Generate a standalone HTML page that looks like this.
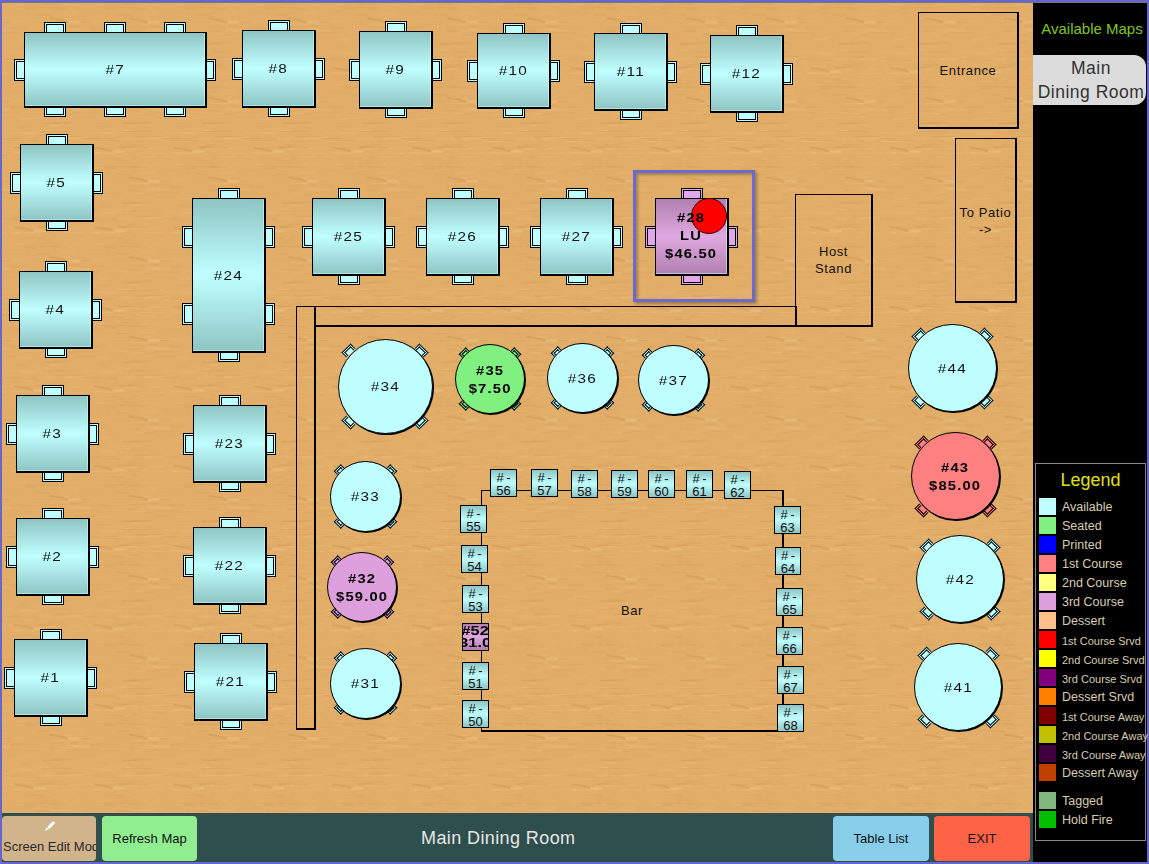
<!DOCTYPE html>
<html><head><meta charset="utf-8"><title>Main Dining Room</title>
<style>
*{margin:0;padding:0;box-sizing:content-box}
html,body{width:1149px;height:864px;overflow:hidden}
body{background:#6566ce;position:relative;font-family:"Liberation Sans",sans-serif}
#floor{position:absolute;left:2px;top:2px;width:1031px;height:811px;overflow:hidden;background:#e1ad67}
#fl{position:absolute;left:-2px;top:-2px;width:1149px;height:864px}
#fl>div{position:absolute}
.ln{background:#000}
.box{border:1px solid #000;border-right-width:2px;border-bottom-width:2px}
.box span{position:absolute;left:0;right:0;text-align:center;font-size:13px;color:#111;line-height:15px;letter-spacing:0.6px}
.ch{border-style:solid;border-color:#000;box-sizing:border-box}
.ch i{display:block;width:100%;height:100%;border-style:solid;border-color:#000;box-sizing:border-box}
.tl{border:1px solid #000;border-right-width:2px;border-bottom-width:2px;box-shadow:inset -1px -1px 0 rgba(200,255,255,.55);display:flex;align-items:center;justify-content:center;font-size:13px;color:#111;letter-spacing:1px}
.rc{border:1px solid #000;box-shadow:inset 0 0 0 1px #c0ffff, inset 0 0 0 2px #000}
.rt{border:1px solid #000;box-shadow:1px 1px 0 0 #000;border-radius:50%;display:flex;align-items:center;justify-content:center;font-size:13px;color:#111;letter-spacing:1px}
.tb{font-weight:bold;font-size:12.5px;line-height:18px;text-align:center;color:#000;transform:scaleX(1.18);white-space:nowrap}
.rt .tb{position:relative;top:1px}
.bs{border:1px solid #000;text-align:center;font-size:13px;line-height:13px;color:#111;padding-top:0;overflow:hidden;display:flex;align-items:center;justify-content:center;flex-direction:column}
.bs>span{position:relative;top:1px}
.tb.s{font-size:12.5px;line-height:12.5px;white-space:nowrap;transform:scaleX(1.3)}
.lb{display:inline-block;transform:scaleX(1.18);letter-spacing:1px}
#sel{left:633px;top:169.5px;width:116px;height:126px;border:3px solid #6a6acf;box-shadow:2px 2px 3px rgba(0,0,0,.3), inset 2px 2px 3px rgba(0,0,0,.28)}
#dot{position:absolute;left:35px;top:-1px;width:34px;height:34px;border-radius:50%;background:#ff0000;border:1px solid #300}
#side{position:absolute;left:1033px;top:2px;width:114px;height:860px;background:#000}
#avail{position:absolute;left:2px;width:114px;top:18px;text-align:center;color:#80c428;font-size:15px}
#mdr{position:absolute;left:0;top:53px;width:113px;height:50px;background:#dcdcdc;border-radius:0 12px 12px 0;text-align:center;color:#333;font-size:17.5px;letter-spacing:0.5px;line-height:23.5px;padding-top:2px;padding-left:3px;box-sizing:border-box;white-space:nowrap}
#legend{position:absolute;left:2px;top:461px;width:109px;height:376px;border:1px solid #8a8a8a}
#legend h3{position:absolute;left:0;right:0;top:6px;text-align:center;color:#e0e010;font-weight:normal;font-size:18px}
.lg{position:absolute;left:3px;height:17px;width:120px}
.lg b{position:absolute;left:0;top:0;width:17px;height:17px}
.lg span{position:absolute;left:23px;top:2px;color:#d8cdb0;font-size:12.5px;white-space:nowrap;line-height:15px}
.lg span.sm{font-size:11px;top:3px}
#bottom{position:absolute;left:2px;top:813px;width:1031px;height:49px;background:#2f4f4f}
.btn{position:absolute;top:3px;height:45px;border-radius:4px;font-size:13px;color:#111;display:flex;align-items:center;justify-content:center;white-space:nowrap;overflow:hidden}
#title{position:absolute;left:419px;top:15px;color:#e6e6e6;font-size:18px;letter-spacing:0.4px}
</style></head>
<body>
<div id="floor"><svg id="wood" width="1031" height="811" style="position:absolute;left:0;top:0"><defs><filter id="wb" x="0" y="0" width="1" height="1"><feGaussianBlur stdDeviation="0.5 0.3"/></filter><pattern id="wp" width="79.6" height="79.6" patternUnits="userSpaceOnUse" x="50.8" y="49.4"><rect width="80.6" height="80.6" fill="#e1ad67"/><rect x="44.6" y="36.0" width="28.2" height="1" fill="#f3cf98" opacity="0.21"/><rect x="64.0" y="15.1" width="17.4" height="1" fill="#c98f4a" opacity="0.15"/><rect x="-15.6" y="15.1" width="17.4" height="1" fill="#c98f4a" opacity="0.15"/><rect x="7.2" y="24.2" width="25.4" height="1" fill="#c98f4a" opacity="0.13"/><rect x="52.1" y="76.8" width="20.8" height="1" fill="#f3cf98" opacity="0.12"/><rect x="2.8" y="5.0" width="27.1" height="1" fill="#c98f4a" opacity="0.26"/><rect x="67.1" y="35.1" width="18.5" height="1" fill="#c98f4a" opacity="0.21"/><rect x="-12.5" y="35.1" width="18.5" height="1" fill="#c98f4a" opacity="0.21"/><rect x="52.1" y="6.8" width="15.8" height="0.7" fill="#c98f4a" opacity="0.29"/><rect x="25.1" y="56.3" width="11.5" height="0.7" fill="#f3cf98" opacity="0.13"/><rect x="67.4" y="31.9" width="15.3" height="0.7" fill="#c98f4a" opacity="0.27"/><rect x="-12.2" y="31.9" width="15.3" height="0.7" fill="#c98f4a" opacity="0.27"/><rect x="73.8" y="17.0" width="7.3" height="1" fill="#f3cf98" opacity="0.25"/><rect x="-5.8" y="17.0" width="7.3" height="1" fill="#f3cf98" opacity="0.25"/><rect x="50.1" y="5.8" width="24.7" height="1" fill="#f3cf98" opacity="0.14"/><rect x="32.6" y="1.2" width="28.1" height="0.7" fill="#f3cf98" opacity="0.25"/><rect x="63.4" y="4.8" width="10.3" height="0.7" fill="#c98f4a" opacity="0.20"/><rect x="61.3" y="78.4" width="16.1" height="0.7" fill="#f3cf98" opacity="0.19"/><rect x="68.8" y="0.0" width="29.4" height="0.7" fill="#c98f4a" opacity="0.30"/><rect x="-10.8" y="0.0" width="29.4" height="0.7" fill="#c98f4a" opacity="0.30"/><rect x="31.4" y="16.8" width="26.5" height="0.7" fill="#c98f4a" opacity="0.14"/><rect x="20.6" y="17.0" width="24.5" height="0.7" fill="#f3cf98" opacity="0.17"/><rect x="16.6" y="5.9" width="21.3" height="1" fill="#f3cf98" opacity="0.19"/><rect x="76.3" y="36.1" width="17.6" height="0.7" fill="#c98f4a" opacity="0.28"/><rect x="-3.3" y="36.1" width="17.6" height="0.7" fill="#c98f4a" opacity="0.28"/><rect x="24.7" y="49.9" width="11.5" height="0.7" fill="#c98f4a" opacity="0.25"/><rect x="74.9" y="58.9" width="10.7" height="1" fill="#c98f4a" opacity="0.28"/><rect x="-4.7" y="58.9" width="10.7" height="1" fill="#c98f4a" opacity="0.28"/><rect x="3.8" y="6.2" width="8.6" height="1" fill="#c98f4a" opacity="0.17"/><rect x="20.5" y="56.1" width="25.8" height="0.7" fill="#c98f4a" opacity="0.17"/><rect x="77.8" y="74.0" width="9.0" height="1" fill="#f3cf98" opacity="0.24"/><rect x="-1.8" y="74.0" width="9.0" height="1" fill="#f3cf98" opacity="0.24"/><rect x="22.3" y="48.9" width="28.0" height="1" fill="#f3cf98" opacity="0.12"/><rect x="19.8" y="32.7" width="7.1" height="0.7" fill="#f3cf98" opacity="0.22"/><rect x="11.0" y="7.3" width="16.8" height="1" fill="#f3cf98" opacity="0.25"/><rect x="11.2" y="46.5" width="6.8" height="1" fill="#f3cf98" opacity="0.28"/><rect x="2.7" y="24.8" width="20.4" height="1" fill="#f3cf98" opacity="0.13"/><rect x="79.5" y="25.4" width="7.8" height="1" fill="#c98f4a" opacity="0.25"/><rect x="-0.1" y="25.4" width="7.8" height="1" fill="#c98f4a" opacity="0.25"/><rect x="10.3" y="58.7" width="29.1" height="1" fill="#f3cf98" opacity="0.14"/><rect x="69.3" y="71.7" width="16.0" height="1" fill="#c98f4a" opacity="0.28"/><rect x="-10.3" y="71.7" width="16.0" height="1" fill="#c98f4a" opacity="0.28"/><rect x="52.7" y="1.2" width="15.1" height="0.7" fill="#f3cf98" opacity="0.13"/><rect x="79.1" y="50.9" width="27.1" height="1" fill="#c98f4a" opacity="0.19"/><rect x="-0.5" y="50.9" width="27.1" height="1" fill="#c98f4a" opacity="0.19"/><rect x="36.4" y="55.3" width="17.1" height="1" fill="#c98f4a" opacity="0.21"/><rect x="47.9" y="2.4" width="17.5" height="1" fill="#f3cf98" opacity="0.25"/><rect x="52.5" y="62.1" width="17.7" height="0.7" fill="#c98f4a" opacity="0.19"/><rect x="16.1" y="54.0" width="10.1" height="1" fill="#c98f4a" opacity="0.24"/><rect x="19.2" y="39.7" width="15.7" height="0.7" fill="#f3cf98" opacity="0.23"/><rect x="30.6" y="70.1" width="20.0" height="1" fill="#f3cf98" opacity="0.14"/><rect x="71.3" y="27.9" width="7.0" height="0.7" fill="#f3cf98" opacity="0.30"/><rect x="37.5" y="9.0" width="28.2" height="1" fill="#c98f4a" opacity="0.19"/><rect x="25.1" y="39.3" width="26.1" height="0.7" fill="#c98f4a" opacity="0.20"/><rect x="22.1" y="66.0" width="20.6" height="1" fill="#c98f4a" opacity="0.17"/><rect x="63.0" y="24.6" width="6.5" height="0.7" fill="#f3cf98" opacity="0.20"/><rect x="21.2" y="61.2" width="24.7" height="0.7" fill="#c98f4a" opacity="0.30"/><rect x="50.1" y="35.5" width="21.7" height="1" fill="#c98f4a" opacity="0.29"/><rect x="65.6" y="15.8" width="12.1" height="1" fill="#c98f4a" opacity="0.26"/><rect x="14.3" y="56.8" width="12.5" height="1" fill="#f3cf98" opacity="0.25"/><rect x="79.3" y="39.8" width="9.8" height="0.7" fill="#c98f4a" opacity="0.25"/><rect x="-0.3" y="39.8" width="9.8" height="0.7" fill="#c98f4a" opacity="0.25"/><rect x="74.2" y="6.9" width="23.3" height="1" fill="#f3cf98" opacity="0.20"/><rect x="-5.4" y="6.9" width="23.3" height="1" fill="#f3cf98" opacity="0.20"/><rect x="0.5" y="70.6" width="19.2" height="1" fill="#c98f4a" opacity="0.21"/><rect x="51.8" y="36.9" width="10.9" height="1" fill="#c98f4a" opacity="0.27"/><rect x="9.8" y="73.6" width="11.8" height="1" fill="#f3cf98" opacity="0.14"/><rect x="62.9" y="42.7" width="13.7" height="1" fill="#c98f4a" opacity="0.27"/><rect x="3.0" y="40.2" width="14.2" height="0.7" fill="#f3cf98" opacity="0.17"/><rect x="69.1" y="17.4" width="16.3" height="1" fill="#f3cf98" opacity="0.22"/><rect x="-10.5" y="17.4" width="16.3" height="1" fill="#f3cf98" opacity="0.22"/><rect x="11.2" y="62.7" width="9.6" height="1" fill="#c98f4a" opacity="0.25"/><rect x="75.3" y="54.9" width="17.8" height="0.7" fill="#c98f4a" opacity="0.14"/><rect x="-4.3" y="54.9" width="17.8" height="0.7" fill="#c98f4a" opacity="0.14"/><rect x="44.5" y="35.0" width="25.9" height="1" fill="#c98f4a" opacity="0.15"/><rect x="44.6" y="67.2" width="13.5" height="1" fill="#f3cf98" opacity="0.27"/><rect x="67.7" y="16.6" width="29.2" height="0.7" fill="#c98f4a" opacity="0.22"/><rect x="-11.9" y="16.6" width="29.2" height="0.7" fill="#c98f4a" opacity="0.22"/><rect x="9.1" y="32.7" width="6.1" height="0.7" fill="#f3cf98" opacity="0.22"/><rect x="31.9" y="41.1" width="25.2" height="1" fill="#c98f4a" opacity="0.21"/><rect x="74.1" y="13.3" width="17.0" height="1" fill="#c98f4a" opacity="0.26"/><rect x="-5.5" y="13.3" width="17.0" height="1" fill="#c98f4a" opacity="0.26"/><rect x="37.7" y="21.4" width="9.0" height="1" fill="#f3cf98" opacity="0.27"/><rect x="8.6" y="41.8" width="16.1" height="1" fill="#f3cf98" opacity="0.17"/><rect x="1.8" y="62.0" width="10.7" height="1" fill="#f3cf98" opacity="0.24"/><rect x="19.5" y="57.6" width="18.0" height="1" fill="#f3cf98" opacity="0.22"/><rect x="57.1" y="49.6" width="22.8" height="1" fill="#c98f4a" opacity="0.12"/><rect x="-22.5" y="49.6" width="22.8" height="1" fill="#c98f4a" opacity="0.12"/><rect x="42.1" y="32.9" width="9.8" height="1" fill="#f3cf98" opacity="0.23"/><rect x="17.2" y="17.4" width="19.0" height="1" fill="#c98f4a" opacity="0.14"/><rect x="27.7" y="50.0" width="10.3" height="0.7" fill="#c98f4a" opacity="0.28"/><rect x="79.5" y="17.4" width="27.3" height="1" fill="#f3cf98" opacity="0.16"/><rect x="-0.1" y="17.4" width="27.3" height="1" fill="#f3cf98" opacity="0.16"/><rect x="30.9" y="7.0" width="16.4" height="1" fill="#c98f4a" opacity="0.22"/><rect x="32.1" y="10.0" width="22.4" height="1" fill="#f3cf98" opacity="0.16"/><rect x="65.3" y="28.5" width="14.7" height="1" fill="#c98f4a" opacity="0.23"/><rect x="-14.3" y="28.5" width="14.7" height="1" fill="#c98f4a" opacity="0.23"/><rect x="54.6" y="40.0" width="10.5" height="0.7" fill="#f3cf98" opacity="0.14"/><rect x="48.8" y="60.7" width="27.7" height="0.7" fill="#f3cf98" opacity="0.15"/><rect x="66.9" y="16.2" width="29.8" height="0.7" fill="#c98f4a" opacity="0.14"/><rect x="-12.7" y="16.2" width="29.8" height="0.7" fill="#c98f4a" opacity="0.14"/><rect x="54.2" y="10.7" width="7.9" height="1" fill="#f3cf98" opacity="0.19"/><rect x="34.2" y="41.0" width="20.4" height="0.7" fill="#f3cf98" opacity="0.25"/><rect x="36.1" y="14.4" width="23.7" height="0.7" fill="#f3cf98" opacity="0.16"/><rect x="63.1" y="7.5" width="13.8" height="1" fill="#f3cf98" opacity="0.27"/><rect x="45.3" y="74.8" width="10.6" height="1" fill="#c98f4a" opacity="0.18"/><rect x="9.3" y="22.2" width="23.8" height="0.7" fill="#f3cf98" opacity="0.29"/><rect x="70.0" y="71.4" width="22.7" height="1" fill="#c98f4a" opacity="0.26"/><rect x="-9.6" y="71.4" width="22.7" height="1" fill="#c98f4a" opacity="0.26"/><rect x="14.7" y="16.5" width="25.1" height="1" fill="#f3cf98" opacity="0.14"/><rect x="71.9" y="78.9" width="7.2" height="1" fill="#f3cf98" opacity="0.29"/><rect x="52.5" y="26.9" width="19.7" height="1" fill="#c98f4a" opacity="0.19"/><path d="M41.0 16.5 Q52.0 17.5 60.0 20.5" stroke="#c48540" stroke-width="1.8" fill="none" opacity=".3"/><ellipse cx="66.0" cy="20.5" rx="7" ry="1.6" fill="#f4d4a4" opacity=".3"/><path d="M43.0 22.0 Q52.0 21.5 61.0 22.5" stroke="#f0cc94" stroke-width="1.2" fill="none" opacity=".3"/><path d="M-38.6 16.5 Q-27.6 17.5 -19.6 20.5" stroke="#c48540" stroke-width="1.8" fill="none" opacity=".3"/><ellipse cx="-13.6" cy="20.5" rx="7" ry="1.6" fill="#f4d4a4" opacity=".3"/><path d="M-36.6 22.0 Q-27.6 21.5 -18.6 22.5" stroke="#f0cc94" stroke-width="1.2" fill="none" opacity=".3"/><path d="M-3.6 46.5 Q7.4 47.5 15.4 50.5" stroke="#c48540" stroke-width="1.8" fill="none" opacity=".3"/><ellipse cx="21.4" cy="50.5" rx="7" ry="1.6" fill="#f4d4a4" opacity=".3"/><path d="M-1.6 52.0 Q7.4 51.5 16.4 52.5" stroke="#f0cc94" stroke-width="1.2" fill="none" opacity=".3"/><path d="M76.0 46.5 Q87.0 47.5 95.0 50.5" stroke="#c48540" stroke-width="1.8" fill="none" opacity=".3"/><ellipse cx="101.0" cy="50.5" rx="7" ry="1.6" fill="#f4d4a4" opacity=".3"/><path d="M78.0 52.0 Q87.0 51.5 96.0 52.5" stroke="#f0cc94" stroke-width="1.2" fill="none" opacity=".3"/></pattern></defs><rect width="1031" height="811" fill="#e1ad67"/><rect width="1031" height="811" fill="url(#wp)" filter="url(#wb)"/></svg><div id="fl">
<div class="box" style="left:296px;top:306px;width:17px;height:421px"></div>
<div class="box" style="left:314px;top:306px;width:480px;height:18px"></div>
<div class="box" style="left:918px;top:12px;width:98px;height:114px"><span style="top:50px">Entrance</span></div>
<div class="box" style="left:955px;top:138px;width:59px;height:162px"><span style="top:65px;line-height:17px">To Patio<br>-&gt;</span></div>
<div class="box" style="left:795px;top:194px;width:75px;height:130px"><span style="top:48px;line-height:17px">Host<br>Stand</span></div>
<div class="box" style="left:481px;top:490px;width:300px;height:239px"><span style="top:112px;left:0;width:300px">Bar</span></div>
<div id="sel"></div>
<div class="ch" style="left:44px;top:22px;width:22px;height:11px;border-width:1px 1px 0 1px;padding:1px 1px 0 1px;background:#c0ffff"><i style="border-width:1px 1px 0 1px;background:#c0ffff"></i></div>
<div class="ch" style="left:104px;top:22px;width:22px;height:11px;border-width:1px 1px 0 1px;padding:1px 1px 0 1px;background:#c0ffff"><i style="border-width:1px 1px 0 1px;background:#c0ffff"></i></div>
<div class="ch" style="left:164px;top:22px;width:22px;height:11px;border-width:1px 1px 0 1px;padding:1px 1px 0 1px;background:#c0ffff"><i style="border-width:1px 1px 0 1px;background:#c0ffff"></i></div>
<div class="ch" style="left:44px;top:107px;width:22px;height:10px;border-width:0 1px 1px 1px;padding:0 1px 1px 1px;background:#c0ffff"><i style="border-width:0 1px 1px 1px;background:#c0ffff"></i></div>
<div class="ch" style="left:104px;top:107px;width:22px;height:10px;border-width:0 1px 1px 1px;padding:0 1px 1px 1px;background:#c0ffff"><i style="border-width:0 1px 1px 1px;background:#c0ffff"></i></div>
<div class="ch" style="left:164px;top:107px;width:22px;height:10px;border-width:0 1px 1px 1px;padding:0 1px 1px 1px;background:#c0ffff"><i style="border-width:0 1px 1px 1px;background:#c0ffff"></i></div>
<div class="ch" style="left:14px;top:59px;width:11px;height:22px;border-width:1px 0 1px 1px;padding:1px 0 1px 1px;background:#c0ffff"><i style="border-width:1px 0 1px 1px;background:#c0ffff"></i></div>
<div class="ch" style="left:206px;top:59px;width:10px;height:22px;border-width:1px 1px 1px 0;padding:1px 1px 1px 0;background:#c0ffff"><i style="border-width:1px 1px 1px 0;background:#c0ffff"></i></div>
<div class="tl" style="left:24px;top:32px;width:180px;height:73px;background:linear-gradient(#8fc4c4,#c0ffff 50%,#8fc4c4)"><span class="lb">#7</span></div>
<div class="ch" style="left:268px;top:20px;width:22px;height:11px;border-width:1px 1px 0 1px;padding:1px 1px 0 1px;background:#c0ffff"><i style="border-width:1px 1px 0 1px;background:#c0ffff"></i></div>
<div class="ch" style="left:268px;top:107px;width:22px;height:10px;border-width:0 1px 1px 1px;padding:0 1px 1px 1px;background:#c0ffff"><i style="border-width:0 1px 1px 1px;background:#c0ffff"></i></div>
<div class="ch" style="left:232px;top:58px;width:11px;height:22px;border-width:1px 0 1px 1px;padding:1px 0 1px 1px;background:#c0ffff"><i style="border-width:1px 0 1px 1px;background:#c0ffff"></i></div>
<div class="ch" style="left:315px;top:58px;width:10px;height:22px;border-width:1px 1px 1px 0;padding:1px 1px 1px 0;background:#c0ffff"><i style="border-width:1px 1px 1px 0;background:#c0ffff"></i></div>
<div class="tl" style="left:242px;top:30px;width:71px;height:75px;background:linear-gradient(#8fc4c4,#c0ffff 50%,#8fc4c4)"><span class="lb">#8</span></div>
<div class="ch" style="left:385px;top:21px;width:22px;height:11px;border-width:1px 1px 0 1px;padding:1px 1px 0 1px;background:#c0ffff"><i style="border-width:1px 1px 0 1px;background:#c0ffff"></i></div>
<div class="ch" style="left:385px;top:108px;width:22px;height:10px;border-width:0 1px 1px 1px;padding:0 1px 1px 1px;background:#c0ffff"><i style="border-width:0 1px 1px 1px;background:#c0ffff"></i></div>
<div class="ch" style="left:349px;top:59px;width:11px;height:22px;border-width:1px 0 1px 1px;padding:1px 0 1px 1px;background:#c0ffff"><i style="border-width:1px 0 1px 1px;background:#c0ffff"></i></div>
<div class="ch" style="left:432px;top:59px;width:10px;height:22px;border-width:1px 1px 1px 0;padding:1px 1px 1px 0;background:#c0ffff"><i style="border-width:1px 1px 1px 0;background:#c0ffff"></i></div>
<div class="tl" style="left:359px;top:31px;width:71px;height:75px;background:linear-gradient(#8fc4c4,#c0ffff 50%,#8fc4c4)"><span class="lb">#9</span></div>
<div class="ch" style="left:503px;top:23px;width:22px;height:11px;border-width:1px 1px 0 1px;padding:1px 1px 0 1px;background:#c0ffff"><i style="border-width:1px 1px 0 1px;background:#c0ffff"></i></div>
<div class="ch" style="left:503px;top:108px;width:22px;height:10px;border-width:0 1px 1px 1px;padding:0 1px 1px 1px;background:#c0ffff"><i style="border-width:0 1px 1px 1px;background:#c0ffff"></i></div>
<div class="ch" style="left:467px;top:60px;width:11px;height:22px;border-width:1px 0 1px 1px;padding:1px 0 1px 1px;background:#c0ffff"><i style="border-width:1px 0 1px 1px;background:#c0ffff"></i></div>
<div class="ch" style="left:550px;top:60px;width:10px;height:22px;border-width:1px 1px 1px 0;padding:1px 1px 1px 0;background:#c0ffff"><i style="border-width:1px 1px 1px 0;background:#c0ffff"></i></div>
<div class="tl" style="left:477px;top:33px;width:71px;height:73px;background:linear-gradient(#8fc4c4,#c0ffff 50%,#8fc4c4)"><span class="lb">#10</span></div>
<div class="ch" style="left:620px;top:23px;width:22px;height:11px;border-width:1px 1px 0 1px;padding:1px 1px 0 1px;background:#c0ffff"><i style="border-width:1px 1px 0 1px;background:#c0ffff"></i></div>
<div class="ch" style="left:620px;top:110px;width:22px;height:10px;border-width:0 1px 1px 1px;padding:0 1px 1px 1px;background:#c0ffff"><i style="border-width:0 1px 1px 1px;background:#c0ffff"></i></div>
<div class="ch" style="left:584px;top:61px;width:11px;height:22px;border-width:1px 0 1px 1px;padding:1px 0 1px 1px;background:#c0ffff"><i style="border-width:1px 0 1px 1px;background:#c0ffff"></i></div>
<div class="ch" style="left:667px;top:61px;width:10px;height:22px;border-width:1px 1px 1px 0;padding:1px 1px 1px 0;background:#c0ffff"><i style="border-width:1px 1px 1px 0;background:#c0ffff"></i></div>
<div class="tl" style="left:594px;top:33px;width:71px;height:75px;background:linear-gradient(#8fc4c4,#c0ffff 50%,#8fc4c4)"><span class="lb">#11</span></div>
<div class="ch" style="left:736px;top:25px;width:22px;height:11px;border-width:1px 1px 0 1px;padding:1px 1px 0 1px;background:#c0ffff"><i style="border-width:1px 1px 0 1px;background:#c0ffff"></i></div>
<div class="ch" style="left:736px;top:112px;width:22px;height:10px;border-width:0 1px 1px 1px;padding:0 1px 1px 1px;background:#c0ffff"><i style="border-width:0 1px 1px 1px;background:#c0ffff"></i></div>
<div class="ch" style="left:700px;top:63px;width:11px;height:22px;border-width:1px 0 1px 1px;padding:1px 0 1px 1px;background:#c0ffff"><i style="border-width:1px 0 1px 1px;background:#c0ffff"></i></div>
<div class="ch" style="left:783px;top:63px;width:10px;height:22px;border-width:1px 1px 1px 0;padding:1px 1px 1px 0;background:#c0ffff"><i style="border-width:1px 1px 1px 0;background:#c0ffff"></i></div>
<div class="tl" style="left:710px;top:35px;width:71px;height:75px;background:linear-gradient(#8fc4c4,#c0ffff 50%,#8fc4c4)"><span class="lb">#12</span></div>
<div class="ch" style="left:46px;top:134px;width:22px;height:11px;border-width:1px 1px 0 1px;padding:1px 1px 0 1px;background:#c0ffff"><i style="border-width:1px 1px 0 1px;background:#c0ffff"></i></div>
<div class="ch" style="left:46px;top:221px;width:22px;height:10px;border-width:0 1px 1px 1px;padding:0 1px 1px 1px;background:#c0ffff"><i style="border-width:0 1px 1px 1px;background:#c0ffff"></i></div>
<div class="ch" style="left:10px;top:172px;width:11px;height:22px;border-width:1px 0 1px 1px;padding:1px 0 1px 1px;background:#c0ffff"><i style="border-width:1px 0 1px 1px;background:#c0ffff"></i></div>
<div class="ch" style="left:93px;top:172px;width:10px;height:22px;border-width:1px 1px 1px 0;padding:1px 1px 1px 0;background:#c0ffff"><i style="border-width:1px 1px 1px 0;background:#c0ffff"></i></div>
<div class="tl" style="left:20px;top:144px;width:71px;height:75px;background:linear-gradient(#8fc4c4,#c0ffff 50%,#8fc4c4)"><span class="lb">#5</span></div>
<div class="ch" style="left:45px;top:261px;width:22px;height:11px;border-width:1px 1px 0 1px;padding:1px 1px 0 1px;background:#c0ffff"><i style="border-width:1px 1px 0 1px;background:#c0ffff"></i></div>
<div class="ch" style="left:45px;top:348px;width:22px;height:10px;border-width:0 1px 1px 1px;padding:0 1px 1px 1px;background:#c0ffff"><i style="border-width:0 1px 1px 1px;background:#c0ffff"></i></div>
<div class="ch" style="left:9px;top:299px;width:11px;height:22px;border-width:1px 0 1px 1px;padding:1px 0 1px 1px;background:#c0ffff"><i style="border-width:1px 0 1px 1px;background:#c0ffff"></i></div>
<div class="ch" style="left:92px;top:299px;width:10px;height:22px;border-width:1px 1px 1px 0;padding:1px 1px 1px 0;background:#c0ffff"><i style="border-width:1px 1px 1px 0;background:#c0ffff"></i></div>
<div class="tl" style="left:19px;top:271px;width:71px;height:75px;background:linear-gradient(#8fc4c4,#c0ffff 50%,#8fc4c4)"><span class="lb">#4</span></div>
<div class="ch" style="left:42px;top:385px;width:22px;height:11px;border-width:1px 1px 0 1px;padding:1px 1px 0 1px;background:#c0ffff"><i style="border-width:1px 1px 0 1px;background:#c0ffff"></i></div>
<div class="ch" style="left:42px;top:472px;width:22px;height:10px;border-width:0 1px 1px 1px;padding:0 1px 1px 1px;background:#c0ffff"><i style="border-width:0 1px 1px 1px;background:#c0ffff"></i></div>
<div class="ch" style="left:6px;top:423px;width:11px;height:22px;border-width:1px 0 1px 1px;padding:1px 0 1px 1px;background:#c0ffff"><i style="border-width:1px 0 1px 1px;background:#c0ffff"></i></div>
<div class="ch" style="left:89px;top:423px;width:10px;height:22px;border-width:1px 1px 1px 0;padding:1px 1px 1px 0;background:#c0ffff"><i style="border-width:1px 1px 1px 0;background:#c0ffff"></i></div>
<div class="tl" style="left:16px;top:395px;width:71px;height:75px;background:linear-gradient(#8fc4c4,#c0ffff 50%,#8fc4c4)"><span class="lb">#3</span></div>
<div class="ch" style="left:42px;top:508px;width:22px;height:11px;border-width:1px 1px 0 1px;padding:1px 1px 0 1px;background:#c0ffff"><i style="border-width:1px 1px 0 1px;background:#c0ffff"></i></div>
<div class="ch" style="left:42px;top:595px;width:22px;height:10px;border-width:0 1px 1px 1px;padding:0 1px 1px 1px;background:#c0ffff"><i style="border-width:0 1px 1px 1px;background:#c0ffff"></i></div>
<div class="ch" style="left:6px;top:546px;width:11px;height:22px;border-width:1px 0 1px 1px;padding:1px 0 1px 1px;background:#c0ffff"><i style="border-width:1px 0 1px 1px;background:#c0ffff"></i></div>
<div class="ch" style="left:89px;top:546px;width:10px;height:22px;border-width:1px 1px 1px 0;padding:1px 1px 1px 0;background:#c0ffff"><i style="border-width:1px 1px 1px 0;background:#c0ffff"></i></div>
<div class="tl" style="left:16px;top:518px;width:71px;height:75px;background:linear-gradient(#8fc4c4,#c0ffff 50%,#8fc4c4)"><span class="lb">#2</span></div>
<div class="ch" style="left:40px;top:629px;width:22px;height:11px;border-width:1px 1px 0 1px;padding:1px 1px 0 1px;background:#c0ffff"><i style="border-width:1px 1px 0 1px;background:#c0ffff"></i></div>
<div class="ch" style="left:40px;top:716px;width:22px;height:10px;border-width:0 1px 1px 1px;padding:0 1px 1px 1px;background:#c0ffff"><i style="border-width:0 1px 1px 1px;background:#c0ffff"></i></div>
<div class="ch" style="left:4px;top:667px;width:11px;height:22px;border-width:1px 0 1px 1px;padding:1px 0 1px 1px;background:#c0ffff"><i style="border-width:1px 0 1px 1px;background:#c0ffff"></i></div>
<div class="ch" style="left:87px;top:667px;width:10px;height:22px;border-width:1px 1px 1px 0;padding:1px 1px 1px 0;background:#c0ffff"><i style="border-width:1px 1px 1px 0;background:#c0ffff"></i></div>
<div class="tl" style="left:14px;top:639px;width:71px;height:75px;background:linear-gradient(#8fc4c4,#c0ffff 50%,#8fc4c4)"><span class="lb">#1</span></div>
<div class="ch" style="left:218px;top:188px;width:22px;height:11px;border-width:1px 1px 0 1px;padding:1px 1px 0 1px;background:#c0ffff"><i style="border-width:1px 1px 0 1px;background:#c0ffff"></i></div>
<div class="ch" style="left:218px;top:352px;width:22px;height:10px;border-width:0 1px 1px 1px;padding:0 1px 1px 1px;background:#c0ffff"><i style="border-width:0 1px 1px 1px;background:#c0ffff"></i></div>
<div class="ch" style="left:182px;top:226px;width:11px;height:22px;border-width:1px 0 1px 1px;padding:1px 0 1px 1px;background:#c0ffff"><i style="border-width:1px 0 1px 1px;background:#c0ffff"></i></div>
<div class="ch" style="left:182px;top:303px;width:11px;height:22px;border-width:1px 0 1px 1px;padding:1px 0 1px 1px;background:#c0ffff"><i style="border-width:1px 0 1px 1px;background:#c0ffff"></i></div>
<div class="ch" style="left:265px;top:226px;width:10px;height:22px;border-width:1px 1px 1px 0;padding:1px 1px 1px 0;background:#c0ffff"><i style="border-width:1px 1px 1px 0;background:#c0ffff"></i></div>
<div class="ch" style="left:265px;top:303px;width:10px;height:22px;border-width:1px 1px 1px 0;padding:1px 1px 1px 0;background:#c0ffff"><i style="border-width:1px 1px 1px 0;background:#c0ffff"></i></div>
<div class="tl" style="left:192px;top:198px;width:71px;height:152px;background:linear-gradient(#8fc4c4,#c0ffff 50%,#8fc4c4)"><span class="lb">#24</span></div>
<div class="ch" style="left:338px;top:188px;width:22px;height:11px;border-width:1px 1px 0 1px;padding:1px 1px 0 1px;background:#c0ffff"><i style="border-width:1px 1px 0 1px;background:#c0ffff"></i></div>
<div class="ch" style="left:338px;top:275px;width:22px;height:10px;border-width:0 1px 1px 1px;padding:0 1px 1px 1px;background:#c0ffff"><i style="border-width:0 1px 1px 1px;background:#c0ffff"></i></div>
<div class="ch" style="left:302px;top:226px;width:11px;height:22px;border-width:1px 0 1px 1px;padding:1px 0 1px 1px;background:#c0ffff"><i style="border-width:1px 0 1px 1px;background:#c0ffff"></i></div>
<div class="ch" style="left:385px;top:226px;width:10px;height:22px;border-width:1px 1px 1px 0;padding:1px 1px 1px 0;background:#c0ffff"><i style="border-width:1px 1px 1px 0;background:#c0ffff"></i></div>
<div class="tl" style="left:312px;top:198px;width:71px;height:75px;background:linear-gradient(#8fc4c4,#c0ffff 50%,#8fc4c4)"><span class="lb">#25</span></div>
<div class="ch" style="left:452px;top:188px;width:22px;height:11px;border-width:1px 1px 0 1px;padding:1px 1px 0 1px;background:#c0ffff"><i style="border-width:1px 1px 0 1px;background:#c0ffff"></i></div>
<div class="ch" style="left:452px;top:275px;width:22px;height:10px;border-width:0 1px 1px 1px;padding:0 1px 1px 1px;background:#c0ffff"><i style="border-width:0 1px 1px 1px;background:#c0ffff"></i></div>
<div class="ch" style="left:416px;top:226px;width:11px;height:22px;border-width:1px 0 1px 1px;padding:1px 0 1px 1px;background:#c0ffff"><i style="border-width:1px 0 1px 1px;background:#c0ffff"></i></div>
<div class="ch" style="left:499px;top:226px;width:10px;height:22px;border-width:1px 1px 1px 0;padding:1px 1px 1px 0;background:#c0ffff"><i style="border-width:1px 1px 1px 0;background:#c0ffff"></i></div>
<div class="tl" style="left:426px;top:198px;width:71px;height:75px;background:linear-gradient(#8fc4c4,#c0ffff 50%,#8fc4c4)"><span class="lb">#26</span></div>
<div class="ch" style="left:566px;top:188px;width:22px;height:11px;border-width:1px 1px 0 1px;padding:1px 1px 0 1px;background:#c0ffff"><i style="border-width:1px 1px 0 1px;background:#c0ffff"></i></div>
<div class="ch" style="left:566px;top:275px;width:22px;height:10px;border-width:0 1px 1px 1px;padding:0 1px 1px 1px;background:#c0ffff"><i style="border-width:0 1px 1px 1px;background:#c0ffff"></i></div>
<div class="ch" style="left:530px;top:226px;width:11px;height:22px;border-width:1px 0 1px 1px;padding:1px 0 1px 1px;background:#c0ffff"><i style="border-width:1px 0 1px 1px;background:#c0ffff"></i></div>
<div class="ch" style="left:613px;top:226px;width:10px;height:22px;border-width:1px 1px 1px 0;padding:1px 1px 1px 0;background:#c0ffff"><i style="border-width:1px 1px 1px 0;background:#c0ffff"></i></div>
<div class="tl" style="left:540px;top:198px;width:71px;height:75px;background:linear-gradient(#8fc4c4,#c0ffff 50%,#8fc4c4)"><span class="lb">#27</span></div>
<div class="ch" style="left:681px;top:188px;width:22px;height:11px;border-width:1px 1px 0 1px;padding:1px 1px 0 1px;background:#e0a8e8"><i style="border-width:1px 1px 0 1px;background:#e0a8e8"></i></div>
<div class="ch" style="left:681px;top:275px;width:22px;height:10px;border-width:0 1px 1px 1px;padding:0 1px 1px 1px;background:#e0a8e8"><i style="border-width:0 1px 1px 1px;background:#e0a8e8"></i></div>
<div class="ch" style="left:645px;top:226px;width:11px;height:22px;border-width:1px 0 1px 1px;padding:1px 0 1px 1px;background:#e0a8e8"><i style="border-width:1px 0 1px 1px;background:#e0a8e8"></i></div>
<div class="ch" style="left:728px;top:226px;width:10px;height:22px;border-width:1px 1px 1px 0;padding:1px 1px 1px 0;background:#e0a8e8"><i style="border-width:1px 1px 1px 0;background:#e0a8e8"></i></div>
<div class="tl" style="left:655px;top:198px;width:71px;height:75px;background:linear-gradient(#b080b0,#e0a8e0 50%,#b080b0)"><div id="dot"></div><div class="tb" style="position:relative;top:-1px">#28<br>LU<br>$46.50</div></div>
<div class="ch" style="left:219px;top:395px;width:22px;height:11px;border-width:1px 1px 0 1px;padding:1px 1px 0 1px;background:#c0ffff"><i style="border-width:1px 1px 0 1px;background:#c0ffff"></i></div>
<div class="ch" style="left:219px;top:482px;width:22px;height:10px;border-width:0 1px 1px 1px;padding:0 1px 1px 1px;background:#c0ffff"><i style="border-width:0 1px 1px 1px;background:#c0ffff"></i></div>
<div class="ch" style="left:183px;top:433px;width:11px;height:22px;border-width:1px 0 1px 1px;padding:1px 0 1px 1px;background:#c0ffff"><i style="border-width:1px 0 1px 1px;background:#c0ffff"></i></div>
<div class="ch" style="left:266px;top:433px;width:10px;height:22px;border-width:1px 1px 1px 0;padding:1px 1px 1px 0;background:#c0ffff"><i style="border-width:1px 1px 1px 0;background:#c0ffff"></i></div>
<div class="tl" style="left:193px;top:405px;width:71px;height:75px;background:linear-gradient(#8fc4c4,#c0ffff 50%,#8fc4c4)"><span class="lb">#23</span></div>
<div class="ch" style="left:219px;top:517px;width:22px;height:11px;border-width:1px 1px 0 1px;padding:1px 1px 0 1px;background:#c0ffff"><i style="border-width:1px 1px 0 1px;background:#c0ffff"></i></div>
<div class="ch" style="left:219px;top:604px;width:22px;height:10px;border-width:0 1px 1px 1px;padding:0 1px 1px 1px;background:#c0ffff"><i style="border-width:0 1px 1px 1px;background:#c0ffff"></i></div>
<div class="ch" style="left:183px;top:555px;width:11px;height:22px;border-width:1px 0 1px 1px;padding:1px 0 1px 1px;background:#c0ffff"><i style="border-width:1px 0 1px 1px;background:#c0ffff"></i></div>
<div class="ch" style="left:266px;top:555px;width:10px;height:22px;border-width:1px 1px 1px 0;padding:1px 1px 1px 0;background:#c0ffff"><i style="border-width:1px 1px 1px 0;background:#c0ffff"></i></div>
<div class="tl" style="left:193px;top:527px;width:71px;height:75px;background:linear-gradient(#8fc4c4,#c0ffff 50%,#8fc4c4)"><span class="lb">#22</span></div>
<div class="ch" style="left:220px;top:633px;width:22px;height:11px;border-width:1px 1px 0 1px;padding:1px 1px 0 1px;background:#c0ffff"><i style="border-width:1px 1px 0 1px;background:#c0ffff"></i></div>
<div class="ch" style="left:220px;top:720px;width:22px;height:10px;border-width:0 1px 1px 1px;padding:0 1px 1px 1px;background:#c0ffff"><i style="border-width:0 1px 1px 1px;background:#c0ffff"></i></div>
<div class="ch" style="left:184px;top:671px;width:11px;height:22px;border-width:1px 0 1px 1px;padding:1px 0 1px 1px;background:#c0ffff"><i style="border-width:1px 0 1px 1px;background:#c0ffff"></i></div>
<div class="ch" style="left:267px;top:671px;width:10px;height:22px;border-width:1px 1px 1px 0;padding:1px 1px 1px 0;background:#c0ffff"><i style="border-width:1px 1px 1px 0;background:#c0ffff"></i></div>
<div class="tl" style="left:194px;top:643px;width:71px;height:75px;background:linear-gradient(#8fc4c4,#c0ffff 50%,#8fc4c4)"><span class="lb">#21</span></div>
<div class="ch" style="left:342.23px;top:346.73px;width:13px;height:7px;border-width:1px 1px 0 1px;padding:1px 1px 0 1px;background:#c0ffff;transform:rotate(-45deg)"><i style="border-width:1px 1px 0 1px;background:#c0ffff"></i></div>
<div class="ch" style="left:414.77px;top:346.73px;width:13px;height:7px;border-width:1px 1px 0 1px;padding:1px 1px 0 1px;background:#c0ffff;transform:rotate(45deg)"><i style="border-width:1px 1px 0 1px;background:#c0ffff"></i></div>
<div class="ch" style="left:342.23px;top:419.27px;width:13px;height:7px;border-width:0 1px 1px 1px;padding:0 1px 1px 1px;background:#c0ffff;transform:rotate(45deg)"><i style="border-width:0 1px 1px 1px;background:#c0ffff"></i></div>
<div class="ch" style="left:414.77px;top:419.27px;width:13px;height:7px;border-width:0 1px 1px 1px;padding:0 1px 1px 1px;background:#c0ffff;transform:rotate(-45deg)"><i style="border-width:0 1px 1px 1px;background:#c0ffff"></i></div>
<div class="rt" style="left:337.5px;top:339.0px;width:93.0px;height:93.0px;background:#c0ffff"><span class="lb">#34</span></div>
<div class="ch" style="left:458.55px;top:350.05px;width:10px;height:5px;border-width:1px 1px 0 1px;padding:1px 1px 0 1px;background:#80f080;transform:rotate(-45deg)"><i style="border-width:1px 1px 0 1px;background:#80f080"></i></div>
<div class="ch" style="left:511.45px;top:350.05px;width:10px;height:5px;border-width:1px 1px 0 1px;padding:1px 1px 0 1px;background:#80f080;transform:rotate(45deg)"><i style="border-width:1px 1px 0 1px;background:#80f080"></i></div>
<div class="ch" style="left:458.55px;top:402.95px;width:10px;height:5px;border-width:0 1px 1px 1px;padding:0 1px 1px 1px;background:#80f080;transform:rotate(45deg)"><i style="border-width:0 1px 1px 1px;background:#80f080"></i></div>
<div class="ch" style="left:511.45px;top:402.95px;width:10px;height:5px;border-width:0 1px 1px 1px;padding:0 1px 1px 1px;background:#80f080;transform:rotate(-45deg)"><i style="border-width:0 1px 1px 1px;background:#80f080"></i></div>
<div class="rt" style="left:455.0px;top:344.0px;width:68.0px;height:68.0px;background:#80f080"><div class="tb">#35<br>$7.50</div></div>
<div class="ch" style="left:550.78px;top:349.08px;width:10px;height:5px;border-width:1px 1px 0 1px;padding:1px 1px 0 1px;background:#c0ffff;transform:rotate(-45deg)"><i style="border-width:1px 1px 0 1px;background:#c0ffff"></i></div>
<div class="ch" style="left:604.02px;top:349.08px;width:10px;height:5px;border-width:1px 1px 0 1px;padding:1px 1px 0 1px;background:#c0ffff;transform:rotate(45deg)"><i style="border-width:1px 1px 0 1px;background:#c0ffff"></i></div>
<div class="ch" style="left:550.78px;top:402.32px;width:10px;height:5px;border-width:0 1px 1px 1px;padding:0 1px 1px 1px;background:#c0ffff;transform:rotate(45deg)"><i style="border-width:0 1px 1px 1px;background:#c0ffff"></i></div>
<div class="ch" style="left:604.02px;top:402.32px;width:10px;height:5px;border-width:0 1px 1px 1px;padding:0 1px 1px 1px;background:#c0ffff;transform:rotate(-45deg)"><i style="border-width:0 1px 1px 1px;background:#c0ffff"></i></div>
<div class="rt" style="left:547.1px;top:342.9px;width:68.5px;height:68.5px;background:#c0ffff"><span class="lb">#36</span></div>
<div class="ch" style="left:641.58px;top:351.08px;width:10px;height:5px;border-width:1px 1px 0 1px;padding:1px 1px 0 1px;background:#c0ffff;transform:rotate(-45deg)"><i style="border-width:1px 1px 0 1px;background:#c0ffff"></i></div>
<div class="ch" style="left:694.82px;top:351.08px;width:10px;height:5px;border-width:1px 1px 0 1px;padding:1px 1px 0 1px;background:#c0ffff;transform:rotate(45deg)"><i style="border-width:1px 1px 0 1px;background:#c0ffff"></i></div>
<div class="ch" style="left:641.58px;top:404.32px;width:10px;height:5px;border-width:0 1px 1px 1px;padding:0 1px 1px 1px;background:#c0ffff;transform:rotate(45deg)"><i style="border-width:0 1px 1px 1px;background:#c0ffff"></i></div>
<div class="ch" style="left:694.82px;top:404.32px;width:10px;height:5px;border-width:0 1px 1px 1px;padding:0 1px 1px 1px;background:#c0ffff;transform:rotate(-45deg)"><i style="border-width:0 1px 1px 1px;background:#c0ffff"></i></div>
<div class="rt" style="left:638.0px;top:344.9px;width:68.5px;height:68.5px;background:#c0ffff"><span class="lb">#37</span></div>
<div class="ch" style="left:333.70px;top:467.00px;width:10px;height:5px;border-width:1px 1px 0 1px;padding:1px 1px 0 1px;background:#c0ffff;transform:rotate(-45deg)"><i style="border-width:1px 1px 0 1px;background:#c0ffff"></i></div>
<div class="ch" style="left:387.30px;top:467.00px;width:10px;height:5px;border-width:1px 1px 0 1px;padding:1px 1px 0 1px;background:#c0ffff;transform:rotate(45deg)"><i style="border-width:1px 1px 0 1px;background:#c0ffff"></i></div>
<div class="ch" style="left:333.70px;top:520.60px;width:10px;height:5px;border-width:0 1px 1px 1px;padding:0 1px 1px 1px;background:#c0ffff;transform:rotate(45deg)"><i style="border-width:0 1px 1px 1px;background:#c0ffff"></i></div>
<div class="ch" style="left:387.30px;top:520.60px;width:10px;height:5px;border-width:0 1px 1px 1px;padding:0 1px 1px 1px;background:#c0ffff;transform:rotate(-45deg)"><i style="border-width:0 1px 1px 1px;background:#c0ffff"></i></div>
<div class="rt" style="left:330.0px;top:460.8px;width:69.0px;height:69.0px;background:#c0ffff"><span class="lb">#33</span></div>
<div class="ch" style="left:330.95px;top:558.15px;width:10px;height:5px;border-width:1px 1px 0 1px;padding:1px 1px 0 1px;background:#dda0dd;transform:rotate(-45deg)"><i style="border-width:1px 1px 0 1px;background:#dda0dd"></i></div>
<div class="ch" style="left:383.85px;top:558.15px;width:10px;height:5px;border-width:1px 1px 0 1px;padding:1px 1px 0 1px;background:#dda0dd;transform:rotate(45deg)"><i style="border-width:1px 1px 0 1px;background:#dda0dd"></i></div>
<div class="ch" style="left:330.95px;top:611.05px;width:10px;height:5px;border-width:0 1px 1px 1px;padding:0 1px 1px 1px;background:#dda0dd;transform:rotate(45deg)"><i style="border-width:0 1px 1px 1px;background:#dda0dd"></i></div>
<div class="ch" style="left:383.85px;top:611.05px;width:10px;height:5px;border-width:0 1px 1px 1px;padding:0 1px 1px 1px;background:#dda0dd;transform:rotate(-45deg)"><i style="border-width:0 1px 1px 1px;background:#dda0dd"></i></div>
<div class="rt" style="left:327.4px;top:552.1px;width:68.0px;height:68.0px;background:#dda0dd"><div class="tb">#32<br>$59.00</div></div>
<div class="ch" style="left:333.68px;top:654.08px;width:10px;height:5px;border-width:1px 1px 0 1px;padding:1px 1px 0 1px;background:#c0ffff;transform:rotate(-45deg)"><i style="border-width:1px 1px 0 1px;background:#c0ffff"></i></div>
<div class="ch" style="left:386.92px;top:654.08px;width:10px;height:5px;border-width:1px 1px 0 1px;padding:1px 1px 0 1px;background:#c0ffff;transform:rotate(45deg)"><i style="border-width:1px 1px 0 1px;background:#c0ffff"></i></div>
<div class="ch" style="left:333.68px;top:707.32px;width:10px;height:5px;border-width:0 1px 1px 1px;padding:0 1px 1px 1px;background:#c0ffff;transform:rotate(45deg)"><i style="border-width:0 1px 1px 1px;background:#c0ffff"></i></div>
<div class="ch" style="left:386.92px;top:707.32px;width:10px;height:5px;border-width:0 1px 1px 1px;padding:0 1px 1px 1px;background:#c0ffff;transform:rotate(-45deg)"><i style="border-width:0 1px 1px 1px;background:#c0ffff"></i></div>
<div class="rt" style="left:330.1px;top:648.0px;width:68.5px;height:68.5px;background:#c0ffff"><span class="lb">#31</span></div>
<div class="ch" style="left:911.92px;top:330.72px;width:13px;height:7px;border-width:1px 1px 0 1px;padding:1px 1px 0 1px;background:#c0ffff;transform:rotate(-45deg)"><i style="border-width:1px 1px 0 1px;background:#c0ffff"></i></div>
<div class="ch" style="left:979.88px;top:330.72px;width:13px;height:7px;border-width:1px 1px 0 1px;padding:1px 1px 0 1px;background:#c0ffff;transform:rotate(45deg)"><i style="border-width:1px 1px 0 1px;background:#c0ffff"></i></div>
<div class="ch" style="left:911.92px;top:398.68px;width:13px;height:7px;border-width:0 1px 1px 1px;padding:0 1px 1px 1px;background:#c0ffff;transform:rotate(45deg)"><i style="border-width:0 1px 1px 1px;background:#c0ffff"></i></div>
<div class="ch" style="left:979.88px;top:398.68px;width:13px;height:7px;border-width:0 1px 1px 1px;padding:0 1px 1px 1px;background:#c0ffff;transform:rotate(-45deg)"><i style="border-width:0 1px 1px 1px;background:#c0ffff"></i></div>
<div class="rt" style="left:908.1px;top:323.9px;width:86.5px;height:86.5px;background:#c0ffff"><span class="lb">#44</span></div>
<div class="ch" style="left:914.92px;top:438.72px;width:13px;height:7px;border-width:1px 1px 0 1px;padding:1px 1px 0 1px;background:#ff8080;transform:rotate(-45deg)"><i style="border-width:1px 1px 0 1px;background:#ff8080"></i></div>
<div class="ch" style="left:982.88px;top:438.72px;width:13px;height:7px;border-width:1px 1px 0 1px;padding:1px 1px 0 1px;background:#ff8080;transform:rotate(45deg)"><i style="border-width:1px 1px 0 1px;background:#ff8080"></i></div>
<div class="ch" style="left:914.92px;top:506.68px;width:13px;height:7px;border-width:0 1px 1px 1px;padding:0 1px 1px 1px;background:#ff8080;transform:rotate(45deg)"><i style="border-width:0 1px 1px 1px;background:#ff8080"></i></div>
<div class="ch" style="left:982.88px;top:506.68px;width:13px;height:7px;border-width:0 1px 1px 1px;padding:0 1px 1px 1px;background:#ff8080;transform:rotate(-45deg)"><i style="border-width:0 1px 1px 1px;background:#ff8080"></i></div>
<div class="rt" style="left:911.1px;top:431.9px;width:86.5px;height:86.5px;background:#ff8080"><div class="tb">#43<br>$85.00</div></div>
<div class="ch" style="left:919.80px;top:541.90px;width:13px;height:7px;border-width:1px 1px 0 1px;padding:1px 1px 0 1px;background:#c0ffff;transform:rotate(-45deg)"><i style="border-width:1px 1px 0 1px;background:#c0ffff"></i></div>
<div class="ch" style="left:987.40px;top:541.90px;width:13px;height:7px;border-width:1px 1px 0 1px;padding:1px 1px 0 1px;background:#c0ffff;transform:rotate(45deg)"><i style="border-width:1px 1px 0 1px;background:#c0ffff"></i></div>
<div class="ch" style="left:919.80px;top:609.50px;width:13px;height:7px;border-width:0 1px 1px 1px;padding:0 1px 1px 1px;background:#c0ffff;transform:rotate(45deg)"><i style="border-width:0 1px 1px 1px;background:#c0ffff"></i></div>
<div class="ch" style="left:987.40px;top:609.50px;width:13px;height:7px;border-width:0 1px 1px 1px;padding:0 1px 1px 1px;background:#c0ffff;transform:rotate(-45deg)"><i style="border-width:0 1px 1px 1px;background:#c0ffff"></i></div>
<div class="rt" style="left:916.1px;top:535.2px;width:86.0px;height:86.0px;background:#c0ffff"><span class="lb">#42</span></div>
<div class="ch" style="left:917.90px;top:650.00px;width:13px;height:7px;border-width:1px 1px 0 1px;padding:1px 1px 0 1px;background:#c0ffff;transform:rotate(-45deg)"><i style="border-width:1px 1px 0 1px;background:#c0ffff"></i></div>
<div class="ch" style="left:985.50px;top:650.00px;width:13px;height:7px;border-width:1px 1px 0 1px;padding:1px 1px 0 1px;background:#c0ffff;transform:rotate(45deg)"><i style="border-width:1px 1px 0 1px;background:#c0ffff"></i></div>
<div class="ch" style="left:917.90px;top:717.60px;width:13px;height:7px;border-width:0 1px 1px 1px;padding:0 1px 1px 1px;background:#c0ffff;transform:rotate(45deg)"><i style="border-width:0 1px 1px 1px;background:#c0ffff"></i></div>
<div class="ch" style="left:985.50px;top:717.60px;width:13px;height:7px;border-width:0 1px 1px 1px;padding:0 1px 1px 1px;background:#c0ffff;transform:rotate(-45deg)"><i style="border-width:0 1px 1px 1px;background:#c0ffff"></i></div>
<div class="rt" style="left:914.2px;top:643.3px;width:86.0px;height:86.0px;background:#c0ffff"><span class="lb">#41</span></div>
<div class="bs" style="left:490px;top:469px;width:25px;height:26px;background:linear-gradient(#8fc4c4,#c0ffff 50%,#8fc4c4)"><span style="letter-spacing:2.5px;margin-right:-2.5px">#-</span><span>56</span></div>
<div class="bs" style="left:531px;top:469px;width:25px;height:26px;background:linear-gradient(#8fc4c4,#c0ffff 50%,#8fc4c4)"><span style="letter-spacing:2.5px;margin-right:-2.5px">#-</span><span>57</span></div>
<div class="bs" style="left:571px;top:470px;width:25px;height:26px;background:linear-gradient(#8fc4c4,#c0ffff 50%,#8fc4c4)"><span style="letter-spacing:2.5px;margin-right:-2.5px">#-</span><span>58</span></div>
<div class="bs" style="left:611px;top:470px;width:25px;height:26px;background:linear-gradient(#8fc4c4,#c0ffff 50%,#8fc4c4)"><span style="letter-spacing:2.5px;margin-right:-2.5px">#-</span><span>59</span></div>
<div class="bs" style="left:648px;top:470px;width:25px;height:26px;background:linear-gradient(#8fc4c4,#c0ffff 50%,#8fc4c4)"><span style="letter-spacing:2.5px;margin-right:-2.5px">#-</span><span>60</span></div>
<div class="bs" style="left:686px;top:470px;width:25px;height:26px;background:linear-gradient(#8fc4c4,#c0ffff 50%,#8fc4c4)"><span style="letter-spacing:2.5px;margin-right:-2.5px">#-</span><span>61</span></div>
<div class="bs" style="left:724px;top:471px;width:25px;height:26px;background:linear-gradient(#8fc4c4,#c0ffff 50%,#8fc4c4)"><span style="letter-spacing:2.5px;margin-right:-2.5px">#-</span><span>62</span></div>
<div class="bs" style="left:774px;top:506px;width:25px;height:26px;background:linear-gradient(#8fc4c4,#c0ffff 50%,#8fc4c4)"><span style="letter-spacing:2.5px;margin-right:-2.5px">#-</span><span>63</span></div>
<div class="bs" style="left:775px;top:547px;width:24px;height:26px;background:linear-gradient(#8fc4c4,#c0ffff 50%,#8fc4c4)"><span style="letter-spacing:2.5px;margin-right:-2.5px">#-</span><span>64</span></div>
<div class="bs" style="left:776px;top:588px;width:25px;height:26px;background:linear-gradient(#8fc4c4,#c0ffff 50%,#8fc4c4)"><span style="letter-spacing:2.5px;margin-right:-2.5px">#-</span><span>65</span></div>
<div class="bs" style="left:776px;top:627px;width:25px;height:26px;background:linear-gradient(#8fc4c4,#c0ffff 50%,#8fc4c4)"><span style="letter-spacing:2.5px;margin-right:-2.5px">#-</span><span>66</span></div>
<div class="bs" style="left:777px;top:666px;width:25px;height:26px;background:linear-gradient(#8fc4c4,#c0ffff 50%,#8fc4c4)"><span style="letter-spacing:2.5px;margin-right:-2.5px">#-</span><span>67</span></div>
<div class="bs" style="left:777px;top:704px;width:25px;height:26px;background:linear-gradient(#8fc4c4,#c0ffff 50%,#8fc4c4)"><span style="letter-spacing:2.5px;margin-right:-2.5px">#-</span><span>68</span></div>
<div class="bs" style="left:460px;top:505px;width:25px;height:26px;background:linear-gradient(#8fc4c4,#c0ffff 50%,#8fc4c4)"><span style="letter-spacing:2.5px;margin-right:-2.5px">#-</span><span>55</span></div>
<div class="bs" style="left:461px;top:545px;width:25px;height:26px;background:linear-gradient(#8fc4c4,#c0ffff 50%,#8fc4c4)"><span style="letter-spacing:2.5px;margin-right:-2.5px">#-</span><span>54</span></div>
<div class="bs" style="left:462px;top:585px;width:25px;height:26px;background:linear-gradient(#8fc4c4,#c0ffff 50%,#8fc4c4)"><span style="letter-spacing:2.5px;margin-right:-2.5px">#-</span><span>53</span></div>
<div class="bs" style="left:462px;top:623px;width:25px;height:26px;background:linear-gradient(#b080b0,#e0a8e0 50%,#b080b0)"><div class="tb s">#52<br>$31.00</div></div>
<div class="bs" style="left:462px;top:662px;width:25px;height:26px;background:linear-gradient(#8fc4c4,#c0ffff 50%,#8fc4c4)"><span style="letter-spacing:2.5px;margin-right:-2.5px">#-</span><span>51</span></div>
<div class="bs" style="left:462px;top:700px;width:25px;height:26px;background:linear-gradient(#8fc4c4,#c0ffff 50%,#8fc4c4)"><span style="letter-spacing:2.5px;margin-right:-2.5px">#-</span><span>50</span></div>
</div></div>
<div id="side">
<div id="avail">Available Maps</div>
<div id="mdr">Main<br>Dining Room</div>
<div id="legend"><h3>Legend</h3>
<div class="lg" style="top:34px"><b style="background:#c0ffff"></b><span class="">Available</span></div>
<div class="lg" style="top:53px"><b style="background:#80f080"></b><span class="">Seated</span></div>
<div class="lg" style="top:72px"><b style="background:#0000ff"></b><span class="">Printed</span></div>
<div class="lg" style="top:91px"><b style="background:#ff8080"></b><span class="">1st Course</span></div>
<div class="lg" style="top:110px"><b style="background:#ffff80"></b><span class="">2nd Course</span></div>
<div class="lg" style="top:129px"><b style="background:#dda0dd"></b><span class="">3rd Course</span></div>
<div class="lg" style="top:148px"><b style="background:#ffc08a"></b><span class="">Dessert</span></div>
<div class="lg" style="top:167px"><b style="background:#ff0000"></b><span class="sm">1st Course Srvd</span></div>
<div class="lg" style="top:186px"><b style="background:#ffff00"></b><span class="sm">2nd Course Srvd</span></div>
<div class="lg" style="top:205px"><b style="background:#800080"></b><span class="sm">3rd Course Srvd</span></div>
<div class="lg" style="top:224px"><b style="background:#ff8000"></b><span class="">Dessert Srvd</span></div>
<div class="lg" style="top:243px"><b style="background:#800000"></b><span class="sm">1st Course Away</span></div>
<div class="lg" style="top:262px"><b style="background:#c0c000"></b><span class="sm">2nd Course Away</span></div>
<div class="lg" style="top:281px"><b style="background:#400040"></b><span class="sm">3rd Course Away</span></div>
<div class="lg" style="top:300px"><b style="background:#c04000"></b><span class="">Dessert Away</span></div>
<div class="lg" style="top:328px"><b style="background:#80b880"></b><span class="">Tagged</span></div>
<div class="lg" style="top:347px"><b style="background:#00c000"></b><span class="">Hold Fire</span></div>
</div>
</div>
<div id="bottom">
<div class="btn" style="left:0;width:94px;background:#d2b48c;justify-content:flex-start;align-items:flex-end;padding-bottom:0"><svg width="20" height="20" viewBox="0 0 20 20" style="position:absolute;left:38px;top:0px"><path d="M7.2 10.9 L12.4 5.7 Q13.8 4.9 14.7 6.2 Q15.1 7 14.6 7.7 L9.4 12.9 Z M6.6 11.6 L8.9 13.6 L5 14.7 Z" fill="#fff"/></svg><span style="position:absolute;left:1px;top:23px;color:#2a2a2a">Screen Edit Mode</span></div>
<div class="btn" style="left:100px;width:95px;background:#90ee90">Refresh Map</div>
<div id="title">Main Dining Room</div>
<div class="btn" style="left:831px;width:96px;background:#87ceeb">Table List</div>
<div class="btn" style="left:932px;width:96px;background:#ff6347">EXIT</div>
</div>
<div style="position:absolute;left:2px;top:2px;width:1145px;height:1px;background:#77777b"></div>
</body></html>
